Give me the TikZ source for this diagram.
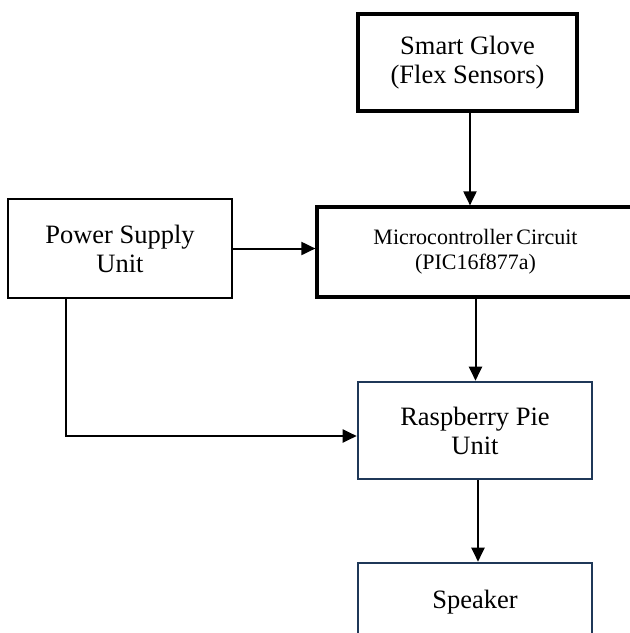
\documentclass[tikz,border=0pt]{standalone}
\usepackage{fontspec}
\setmainfont{Liberation Serif}
\usetikzlibrary{arrows.meta}
\definecolor{navy}{RGB}{31,56,88}
\begin{document}
\begin{tikzpicture}[x=1pt,y=1pt,
  blk/.style={draw=black,rectangle,inner sep=0pt,align=center,font=\fontsize{26.5}{29}\selectfont},
  thickblk/.style={blk,line width=3.2pt},
  midblk/.style={blk,line width=2.5pt},
  navyblk/.style={blk,draw=navy,line width=2.6pt},
  arr/.style={line width=2.0pt,-{Triangle[length=14pt,width=13pt]}}]
\useasboundingbox (0,0) rectangle (630,-633);
\clip (0,0) rectangle (630,-633);
\node[thickblk,minimum width=219pt,minimum height=97pt] (glove) at (467.5,-62.5) {Smart Glove\\(Flex Sensors)};
\node[midblk,minimum width=224pt,minimum height=99pt] (power) at (120,-248.5) {Power Supply\\Unit};
\node[thickblk,minimum width=317pt,minimum height=90pt,font=\fontsize{22}{25}\selectfont] (micro) at (475.5,-252) {Microcontroller\,Circuit\\(PIC16f877a)};
\node[navyblk,minimum width=234pt,minimum height=97pt] (rasp) at (475,-430.5) {Raspberry Pie\\Unit};
\node[navyblk,minimum width=234pt,minimum height=97pt] (spk) at (475,-611.5) {};
\node[font=\fontsize{26.5}{29}\selectfont,inner sep=0pt] (spktext) at (475,-602) {Speaker};
\draw[arr] ([xshift=2.5pt]glove.south) -- ([xshift=2.5pt]glove.south |- micro.north);
\draw[arr] (power.east) -- (power.east -| micro.west);
\draw[arr] (micro.south) -- (micro.south |- rasp.north);
\draw[arr] ([xshift=3pt]rasp.south) -- ([xshift=3pt]rasp.south |- spk.north);
\draw[arr] ([xshift=-54pt]power.south) |- ([yshift=-5.5pt]rasp.west);
\end{tikzpicture}
\end{document}
